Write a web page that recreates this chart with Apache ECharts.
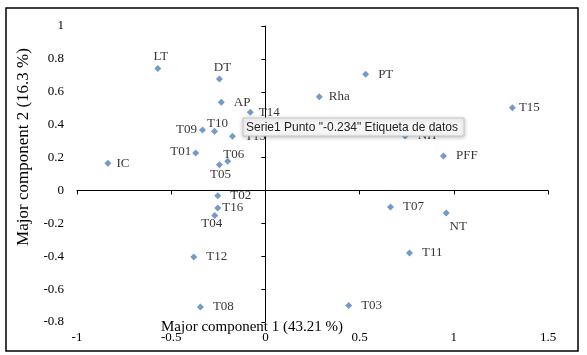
<!DOCTYPE html>
<html>
<head>
<meta charset="utf-8">
<script src="https://cdn.jsdelivr.net/npm/echarts@6/dist/echarts.min.js"></script>
<style>html,body{margin:0;padding:0;background:#fff}#c{width:587px;height:355px}</style>
</head>
<body>
<div id="c"></div>
<script>
// ---- data ----
const names = ["LT","DT","AP","T14","T09","T10","T13","T01","T06","T05","IC","T02","T16","T04","T12","T08","T07","NT","T11","T03","PT","Rha","T15","NH","PFF"];
const pc1 = [-0.571,-0.244,-0.234,-0.080,-0.334,-0.270,-0.175,-0.370,-0.200,-0.244,-0.836,-0.253,-0.253,-0.269,-0.380,-0.345,0.664,0.960,0.765,0.442,0.532,0.286,1.311,0.742,0.945];
const pc2 = [0.742,0.677,0.536,0.475,0.368,0.360,0.330,0.228,0.178,0.156,0.166,-0.032,-0.107,-0.153,-0.404,-0.709,-0.101,-0.137,-0.380,-0.699,0.707,0.570,0.503,0.331,0.210];
const xTicks = [-1,-0.5,0,0.5,1,1.5];
const yTicks = [-0.8,-0.6,-0.4,-0.2,0,0.2,0.4,0.6,0.8,1];
const xTitle = "Major component 1 (43.21 %)";
const yTitle = "Major component 2 (16.3 %)";
const tipText = 'Serie1 Punto "-0.234" Etiqueta de datos';

// ---- label placement (style) ----
const place = {
  LT:['top',2,3,0], DT:['top',2,3,0], T10:['top',-2,3,0], T05:['bottom',0,1,0],
  T04:['bottom',-2,-3,0], NT:['bottom',4,12,0], T06:['top',-3,6,0],
  T09:['left',2,0,0], T01:['left',1,0,-1], T16:['right',1,0,0], T15:['right',3,0,0],
  IC:['right',5,0,0], Rha:['right',6,0,0], T14:['right',5,0,0]
};
const serif = '"Liberation Serif","Times New Roman",serif';
const data = names.map((n,i)=>{
  const p = place[n] || ['right',9,0,0];
  return {name:n, value:[pc1[i],pc2[i]],
    label:{position:p[0], distance:p[1], offset:[p[2],p[3]]}};
});

const chart = echarts.init(document.getElementById('c'));
const xr = {min:-1,max:1.5,interval:0.5};
const yr = {min:-0.8,max:1,interval:0.2};
chart.setOption({
  animation:false,
  grid:{left:77,right:39,top:26,bottom:33},
  xAxis:[
    {type:'value',position:'bottom',...xr,axisLine:{show:false,onZero:false},axisTick:{show:false},splitLine:{show:false},
     axisLabel:{margin:9,fontFamily:serif,fontSize:13,color:'#000',formatter:v=>String(v)}},
    {type:'value',position:'bottom',...xr,axisLine:{show:true,onZero:true,onZeroAxisIndex:0,lineStyle:{color:'#000',width:1}},
     axisTick:{show:true,length:4,lineStyle:{color:'#000'}},axisLabel:{show:false},splitLine:{show:false}}
  ],
  yAxis:[
    {type:'value',position:'left',...yr,axisLine:{show:false,onZero:false},axisTick:{show:false},splitLine:{show:false},
     axisLabel:{margin:13,fontFamily:serif,fontSize:13,color:'#000',formatter:v=>String(Math.round(v*10)/10)}},
    {type:'value',position:'left',...yr,axisLine:{show:true,onZero:true,onZeroAxisIndex:0,lineStyle:{color:'#000',width:1}},
     axisTick:{show:true,length:4,lineStyle:{color:'#000'}},axisLabel:{show:false},splitLine:{show:false}}
  ],
  series:[{
    type:'scatter',xAxisIndex:0,yAxisIndex:0,symbol:'diamond',symbolSize:7,
    itemStyle:{color:'#4F81BD'},
    label:{show:true,formatter:'{b}',fontFamily:serif,fontSize:13,color:'#000'},
    data:data
  }],
  graphic:[
    {type:'rect',shape:{x:6,y:8,width:572,height:343},style:{fill:'none',stroke:'#000',lineWidth:1.5},z:0},
    {type:'text',x:252,y:327,style:{text:xTitle,fontFamily:serif,fontSize:15,fill:'#000',align:'center',verticalAlign:'middle'},z:50},
    {type:'text',x:24,y:147,rotation:Math.PI/2,style:{text:yTitle,fontFamily:serif,fontSize:17,fill:'#000',align:'center',verticalAlign:'middle'},z:50},
    {type:'rect',shape:{x:243,y:118,width:221,height:18},style:{fill:'#f6f6f6',stroke:'#c9c9c9',lineWidth:1,shadowBlur:4,shadowColor:'rgba(0,0,0,0.25)',shadowOffsetY:1},z:100},
    {type:'text',x:246,y:127.5,style:{text:tipText,fontFamily:'"Liberation Sans",Arial,sans-serif',fontSize:12,fill:'#222',verticalAlign:'middle'},z:101}
  ]
});
</script>
</body>
</html>
